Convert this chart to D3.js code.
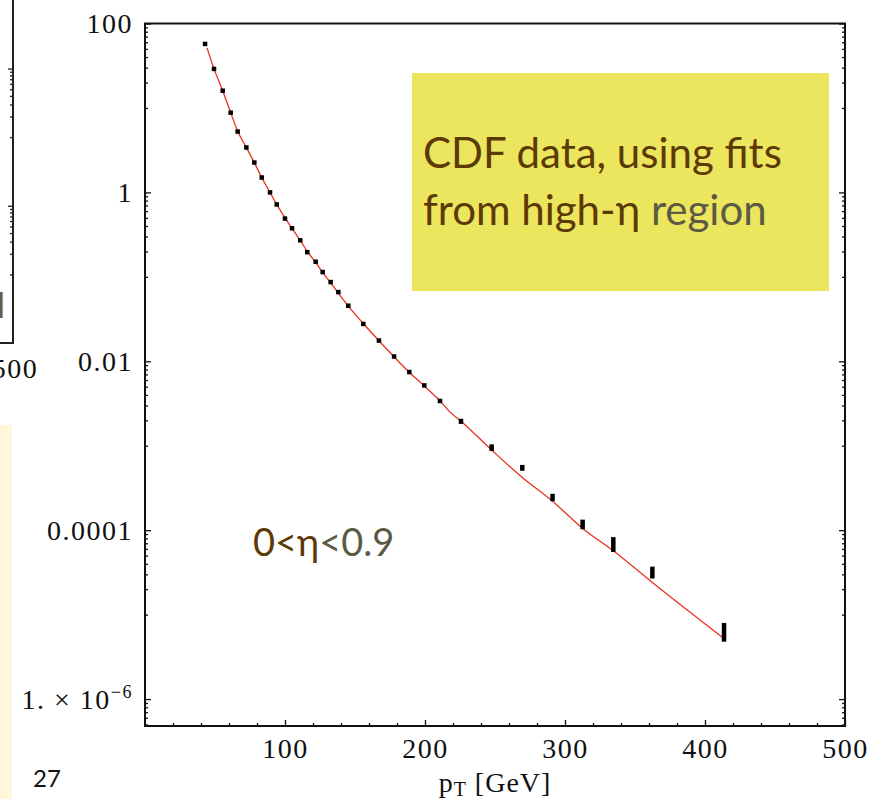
<!DOCTYPE html>
<html>
<head>
<meta charset="utf-8">
<script src="https://cdn.jsdelivr.net/npm/d3@7"></script>
<style>
  html, body { margin: 0; padding: 0; background: #fff; }
  svg { display: block; }
</style>
</head>
<body>
<svg id="chart" width="880" height="799"></svg>
<script>
// ---------------- data ----------------
const ptX = [42.9, 49.3, 55.5, 61.2, 66.2, 72.4, 78.1, 83.4, 89.3, 94.1, 100, 105, 110.9, 115.9, 121.9, 126.9, 132.6, 138.1, 145.2, 155.9, 167.1, 177.9, 188.8, 199.5, 210.7, 225.7, 247.6, 269.5, 291.1, 312.6, 334.5, 362.4, 413.6];
const ptY = [57.3, 29.0, 16.0, 8.8, 5.25, 3.40, 2.26, 1.50, 1.0, 0.72, 0.49, 0.376, 0.271, 0.196, 0.151, 0.114, 0.0867, 0.066, 0.0455, 0.0277, 0.0176, 0.0114, 0.00746, 0.00518, 0.00339, 0.00195, 0.000953, 0.000549, 0.000245, 0.000118, 0.000069, 0.0000319, 0.00000638];
const ptErr = [0.02, 0.02, 0.02, 0.02, 0.02, 0.02, 0.02, 0.02, 0.02, 0.02, 0.02, 0.02, 0.02, 0.02, 0.02, 0.02, 0.02, 0.03, 0.03, 0.03, 0.03, 0.03, 0.04, 0.04, 0.05, 0.07, 0.09, 0.08, 0.10, 0.13, 0.20, 0.16, 0.25];

const fitX = [44.3, 49.3, 55.5, 61.2, 66.2, 72.4, 78.1, 83.4, 89.3, 94.1, 100, 105, 110.9, 115.9, 121.9, 126.9, 132.6, 138.1, 145.2, 155.9, 167.1, 177.9, 188.8, 199.5, 210.7, 217.9, 225.7, 247.6, 269.5, 291.1, 312.6, 334.5, 362.4, 413.6];
const fitY = [51.4, 29.0, 16.0, 8.8, 5.3, 3.4, 2.25, 1.5, 1.0, 0.72, 0.50, 0.375, 0.27, 0.20, 0.148, 0.113, 0.085, 0.064, 0.045, 0.028, 0.0175, 0.0113, 0.0074, 0.0051, 0.0034, 0.0025, 0.00195, 0.00089, 0.00042, 0.00022, 0.000105, 0.000057, 0.000024, 0.0000052];

const xMajor = [100, 200, 300, 400, 500];
const xMinor = [20, 40, 60, 80, 120, 140, 160, 180, 220, 240, 260, 280, 320, 340, 360, 380, 420, 440, 460, 480];
const yMajor = [100, 1, 0.01, 0.0001, 0.000001];
const yMajorLabels = ["100", "1", "0.01", "0.0001", "1. \u00d7 10"];
const yMinorFactors = [0.9, 0.8, 0.7, 0.6, 0.5, 0.4, 0.3, 0.2, 0.1];

const xTitle = "p";
const xTitleSub = "T";
const xTitleRest = " [GeV]";
const boxLine1 = "CDF data, using fits";
const boxLine2a = "from high-\u03b7";
const boxLine2b = " region";
const etaLabelA = "0<\u03b7";
const etaLabelB = "<0.9";
const pageNumber = "27";

// ---------------- layout ----------------
const svg = d3.select("#chart");
const L = 145, R = 845, T = 23.5, B = 726;
const serif = "Liberation Serif, Times New Roman, serif";
const sans = "Lato, sans-serif";

const x = d3.scaleLinear().domain([0, 500]).range([L, R]);
const y = d3.scaleLog().domain([4.8e-7, 100]).range([B, T]);

const yMinor = [];
yMajor.forEach(M => yMinorFactors.forEach(f => {
  const v = M * f;
  if (v >= y.domain()[0]) yMinor.push(v);
}));

// --- left slide decorations (partial neighbouring chart) ---
svg.append("rect").attr("x", 0).attr("y", 425).attr("width", 12).attr("height", 374).attr("fill", "#fff7dc");
const yL = d3.scaleLog().domain([1e-4, 10]).range([343, 0]);
const leftMinor = [];
[1, 0.01].forEach(M => yMinorFactors.forEach(f => leftMinor.push(M * f)));
svg.append("g").attr("transform", "translate(13,0)")
  .call(d3.axisLeft(yL).tickValues(leftMinor).tickSize(3).tickFormat(""))
  .call(g => g.select(".domain").remove())
  .selectAll("line").attr("stroke", "#222").attr("stroke-width", 1.3);
svg.append("g").attr("transform", "translate(13,0)")
  .call(d3.axisLeft(yL).tickValues([1, 0.01]).tickSize(5).tickFormat(""))
  .call(g => g.select(".domain").remove())
  .selectAll("line").attr("stroke", "#222").attr("stroke-width", 1.3);
svg.append("path").attr("d", "M13,0V343H0").attr("fill", "none").attr("stroke", "#222").attr("stroke-width", 2);
svg.append("text").attr("x", 15).attr("y", 378).attr("text-anchor", "middle")
  .attr("font-family", serif).attr("font-size", 28).attr("letter-spacing", 1.5).attr("fill", "#111").text("500");
svg.append("text").attr("x", -3).attr("y", 318)
  .attr("font-family", sans).attr("font-size", 34).attr("fill", "#6b5e3e").text("l");
svg.append("text").attr("x", 33).attr("y", 787)
  .attr("font-family", sans).attr("font-size", 24).attr("fill", "#111").text(pageNumber);

// --- main frame axes ---
const tickStyle = g => g.selectAll("line").attr("stroke", "#111").attr("stroke-width", 1.3);

svg.append("g").attr("transform", `translate(${L},0)`)
  .call(d3.axisRight(y).tickValues(yMinor).tickSize(3).tickFormat(""))
  .call(g => g.select(".domain").remove()).call(tickStyle);
svg.append("g").attr("transform", `translate(${L},0)`)
  .call(d3.axisRight(y).tickValues(yMajor).tickSize(6).tickFormat(""))
  .call(g => g.select(".domain").remove()).call(tickStyle);
svg.append("g").attr("transform", `translate(${R},0)`)
  .call(d3.axisLeft(y).tickValues(yMinor).tickSize(3).tickFormat(""))
  .call(g => g.select(".domain").remove()).call(tickStyle);
svg.append("g").attr("transform", `translate(${R},0)`)
  .call(d3.axisLeft(y).tickValues(yMajor).tickSize(6).tickFormat(""))
  .call(g => g.select(".domain").remove()).call(tickStyle);
svg.append("g").attr("transform", `translate(0,${B})`)
  .call(d3.axisTop(x).tickValues(xMinor).tickSize(3).tickFormat(""))
  .call(g => g.select(".domain").remove()).call(tickStyle);
svg.append("g").attr("transform", `translate(0,${B})`)
  .call(d3.axisTop(x).tickValues(xMajor).tickSize(6).tickFormat(""))
  .call(g => g.select(".domain").remove()).call(tickStyle);

// y labels
const yLab = svg.append("g").attr("transform", `translate(${L},0)`)
  .call(d3.axisLeft(y).tickValues(yMajor).tickSize(0).tickPadding(12)
    .tickFormat((d, i) => yMajorLabels[i]))
  .call(g => g.select(".domain").remove());
yLab.selectAll("text").attr("font-family", serif).attr("font-size", 28)
  .attr("letter-spacing", 1.5).attr("fill", "#111");
yLab.selectAll("text").filter((d, i) => i === yMajor.length - 1)
  .append("tspan").attr("dy", -11).attr("font-size", 18).text("\u2212" + "6");

// x labels
const xLab = svg.append("g").attr("transform", `translate(0,${B})`)
  .call(d3.axisBottom(x).tickValues(xMajor).tickSize(0).tickPadding(12).tickFormat(d3.format("d")))
  .call(g => g.select(".domain").remove());
xLab.selectAll("text").attr("font-family", serif).attr("font-size", 28)
  .attr("letter-spacing", 1.5).attr("fill", "#111");

// frame
svg.append("rect").attr("x", L).attr("y", T).attr("width", R - L).attr("height", B - T)
  .attr("fill", "none").attr("stroke", "#111").attr("stroke-width", 2);

// x title
const xt = svg.append("text").attr("x", x(250)).attr("y", 792).attr("text-anchor", "middle")
  .attr("font-family", serif).attr("font-size", 28).attr("letter-spacing", 1).attr("fill", "#111");
xt.append("tspan").text(xTitle);
xt.append("tspan").attr("dy", 4).attr("font-size", 20).text(xTitleSub);
xt.append("tspan").attr("dy", -4).text(xTitleRest);

// fit curve
const fit = fitX.map((v, i) => [v, fitY[i]]);
svg.append("path").datum(fit)
  .attr("d", d3.line().x(d => x(d[0])).y(d => y(d[1])).curve(d3.curveMonotoneX))
  .attr("fill", "none").attr("stroke", "#e8321e").attr("stroke-width", 1.3);

// data points with error bars
svg.append("g").selectAll("rect").data(ptX.map((v, i) => ({ x: v, y: ptY[i], e: ptErr[i] })))
  .join("rect")
  .attr("x", d => x(d.x) - 2.25)
  .attr("width", 4.5)
  .attr("y", d => Math.min(y(d.y * (1 + d.e)), y(d.y) - 2.25))
  .attr("height", d => Math.max(y(d.y * (1 - d.e)) - y(d.y * (1 + d.e)), 4.5))
  .attr("fill", "#000");

// annotation box
svg.append("rect").attr("x", 412).attr("y", 73).attr("width", 417).attr("height", 218).attr("fill", "#ece55e");
svg.append("text").attr("x", 423).attr("y", 168)
  .attr("font-family", sans).attr("font-size", 42).attr("fill", "#5c3a06").text(boxLine1);
const t2 = svg.append("text").attr("x", 423).attr("y", 225)
  .attr("font-family", sans).attr("font-size", 42).attr("fill", "#5c3a06");
t2.append("tspan").text(boxLine2a);
t2.append("tspan").attr("fill", "#5b5a45").text(boxLine2b);

// eta label
const e1 = svg.append("text").attr("x", 253).attr("y", 556)
  .attr("font-family", sans).attr("font-size", 38).attr("fill", "#5c3a06");
e1.append("tspan").text(etaLabelA);
e1.append("tspan").attr("fill", "#5b5a45").text(etaLabelB);
</script>
</body>
</html>
